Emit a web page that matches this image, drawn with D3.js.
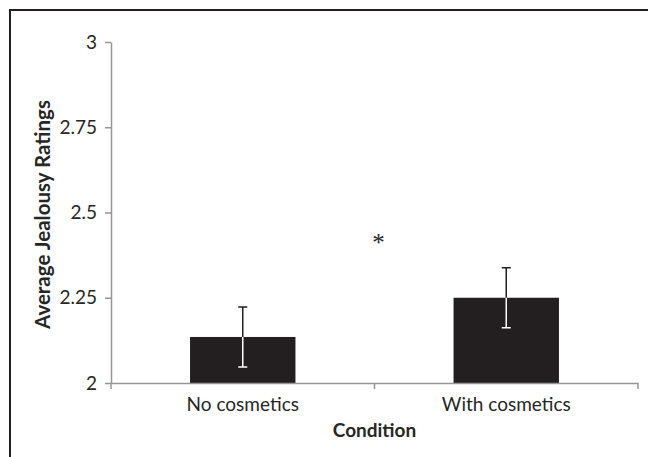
<!DOCTYPE html>
<html>
<head>
<meta charset="utf-8">
<script src="https://cdn.jsdelivr.net/npm/d3@7"></script>
<style>
  body { margin: 0; background: #fff; }
  text { font-family: Lato, "Open Sans", sans-serif; fill: #262626; }
</style>
</head>
<body>
<svg id="plotSVG" width="648" height="457"></svg>
<script>
// values
var conditions = ["No cosmetics", "With cosmetics"];
var means = [2.135, 2.25];
var errors = [0.088, 0.088];
var yTicks = [2, 2.25, 2.5, 2.75, 3];
var yTickLabels = ["2", "2.25", "2.5", "2.75", "3"];

var width = 648, height = 457;
var margin = { top: 42, right: 10, bottom: 74, left: 111 };

var svg = d3.select("#plotSVG");

// frame, only top and left are visible
svg.append("path")
  .attr("d", "M10," + height + "V10H" + width)
  .attr("fill", "none")
  .attr("stroke", "#231f20")
  .attr("stroke-width", 2);

var xScale = d3.scaleBand()
  .domain(conditions)
  .range([margin.left, width - margin.right])
  .paddingInner(0.6)
  .paddingOuter(0.3);

// band edges for the category axis ticks (excel style)
var xEdges = d3.scaleBand()
  .domain(conditions)
  .range([margin.left, width - margin.right])
  .padding(0);

var yScale = d3.scaleLinear()
  .domain([2, 3])
  .range([height - margin.bottom, margin.top]);

var axisColor = "#969696";

// y axis
var yAxis = svg.append("g")
  .attr("transform", "translate(" + margin.left + ",0)")
  .call(d3.axisLeft(yScale)
    .tickValues(yTicks)
    .tickFormat((d, i) => yTickLabels[i])
    .tickSize(6)
    .tickSizeOuter(0)
    .tickPadding(8));
yAxis.select(".domain").attr("stroke", axisColor).attr("stroke-width", 1.5);
yAxis.selectAll(".tick line").attr("stroke", axisColor).attr("stroke-width", 1.5);
yAxis.selectAll(".tick text")
  .style("font-size", "19px")
  .attr("fill", "#262626");

// bars
svg.selectAll(".bar")
  .data(means)
  .join("rect")
  .attr("class", "bar")
  .attr("x", (d, i) => xScale(conditions[i]))
  .attr("y", d => yScale(d))
  .attr("width", xScale.bandwidth())
  .attr("height", d => yScale(2) - yScale(d))
  .attr("fill", "#231f20");

// x axis, drawn after the bars so its line sits on top
var xAxis = svg.append("g")
  .attr("transform", "translate(0," + yScale(2) + ")")
  .call(d3.axisBottom(xEdges).tickSize(0).tickPadding(15));
xAxis.select(".domain").attr("stroke", axisColor).attr("stroke-width", 1.5);
xAxis.selectAll(".tick text")
  .style("font-size", "19px")
  .attr("fill", "#262626");

var edges = conditions.map(c => xEdges(c)).concat([xEdges.range()[1]]);
xAxis.selectAll(".edge")
  .data(edges)
  .join("line")
  .attr("class", "edge")
  .attr("x1", d => d).attr("x2", d => d)
  .attr("y1", 0).attr("y2", 6)
  .attr("stroke", axisColor)
  .attr("stroke-width", 1.5);

// error bars: upper half dark, lower half white inside the bar
var cap = 4.5;
var errG = svg.selectAll(".err")
  .data(means)
  .join("g")
  .attr("class", "err")
  .attr("transform", (d, i) => "translate(" + (xScale(conditions[i]) + xScale.bandwidth() / 2) + ",0)");

errG.append("path")
  .attr("d", (d, i) => "M0," + yScale(d) + "V" + yScale(d + errors[i]) +
    "M" + (-cap) + "," + yScale(d + errors[i]) + "H" + cap)
  .attr("stroke", "#231f20")
  .attr("stroke-width", 1.5)
  .attr("fill", "none");

errG.append("path")
  .attr("d", (d, i) => "M0," + yScale(d) + "V" + yScale(d - errors[i]) +
    "M" + (-cap) + "," + yScale(d - errors[i]) + "H" + cap)
  .attr("stroke", "#fff")
  .attr("stroke-width", 1.5)
  .attr("fill", "none");

// significance mark
svg.append("text")
  .attr("x", (xEdges.range()[0] + xEdges.range()[1]) / 2 + 4)
  .attr("y", 251)
  .attr("text-anchor", "middle")
  .style("font-family", "'Liberation Serif', serif")
  .style("font-size", "25px")
  .text("*");

// axis titles
svg.append("text")
  .attr("x", (xEdges.range()[0] + xEdges.range()[1]) / 2)
  .attr("y", 437)
  .attr("text-anchor", "middle")
  .style("font-size", "19px")
  .style("font-weight", "bold")
  .text("Condition");

svg.append("text")
  .attr("transform", "translate(50," + (yScale(2.5) + 2) + ") rotate(-90)")
  .attr("text-anchor", "middle")
  .style("font-size", "20.5px")
  .style("font-weight", "bold")
  .text("Average Jealousy Ratings");
</script>
</body>
</html>
